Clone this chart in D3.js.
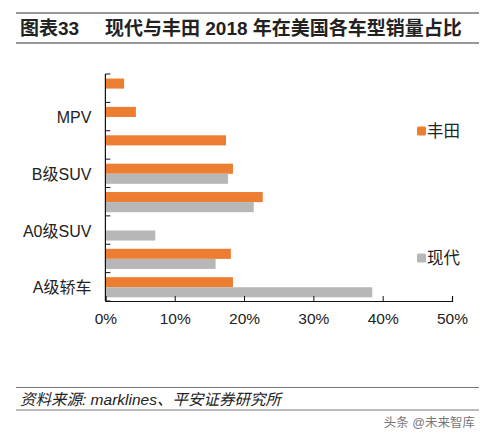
<!DOCTYPE html>
<html>
<head>
<meta charset="utf-8">
<script src="https://cdn.jsdelivr.net/npm/d3@7"></script>
<style>
  body { margin: 0; background: #fff; }
  svg text { font-family: "Liberation Sans", "Noto Sans CJK SC", sans-serif; }
</style>
</head>
<body>
<svg id="chart"></svg>
<script>
// categories bottom -> top (every other label shown, as in the source)
const categories = ['A级轿车', 'B级轿车', 'A0级SUV', 'A级SUV', 'B级SUV', 'C级SUV', 'MPV', '皮卡'];
const showLabel = ['A级轿车', 'A0级SUV', 'B级SUV', 'MPV'];
const toyota = [18.4, 18.1, 0, 22.7, 18.4, 17.4, 4.4, 2.7];
const hyundai = [38.5, 15.9, 7.2, 21.4, 17.7, 0, 0, 0];
const seriesNames = ['丰田', '现代'];
const xTicks = [0, 10, 20, 30, 40, 50];

const width = 486, height = 435;
const margin = { top: 74, right: 34, bottom: 134, left: 105.4 };
const colors = { '丰田': '#ed7d31', '现代': '#b7b7b7' };

const svg = d3.select('#chart')
    .attr('width', width)
    .attr('height', height);

// title block
svg.append('line').attr('x1', 16).attr('x2', 479).attr('y1', 13).attr('y2', 13)
   .attr('stroke', '#777').attr('stroke-width', 1.5);
svg.append('line').attr('x1', 16).attr('x2', 479).attr('y1', 43).attr('y2', 43)
   .attr('stroke', '#777').attr('stroke-width', 1.5);
svg.append('text').attr('x', 20).attr('y', 35)
   .style('font-size', '19px').style('font-weight', 'bold').attr('fill', '#222')
   .text('图表33');
svg.append('text').attr('x', 105).attr('y', 35)
   .style('font-size', '19px').style('font-weight', 'bold').attr('fill', '#222')
   .text('现代与丰田 2018 年在美国各车型销量占比');

const chartW = width - margin.left - margin.right;
const chartH = height - margin.top - margin.bottom;
const g = svg.append('g').attr('transform', `translate(${margin.left},${margin.top})`);

const x = d3.scaleLinear().domain([0, 50]).range([0, chartW]);
const y0 = d3.scaleBand().domain(categories.slice().reverse()).range([0, chartH]).padding(0);
const y1 = d3.scaleBand().domain(seriesNames)
    .range([y0.bandwidth() * 0.16, y0.bandwidth() * 0.87]).padding(0);

const rows = categories.map((c, i) => ({ cat: c, '丰田': toyota[i], '现代': hyundai[i] }));

const groups = g.selectAll('.grp').data(rows).enter().append('g')
    .attr('transform', d => `translate(0,${y0(d.cat)})`);

groups.selectAll('rect')
    .data(d => seriesNames.map(k => ({ key: k, value: d[k] })))
    .enter().append('rect')
    .attr('x', 0)
    .attr('y', d => y1(d.key))
    .attr('width', d => x(d.value))
    .attr('height', y1.bandwidth())
    .attr('fill', d => colors[d.key]);

// y axis: line + inward ticks at band edges
g.append('line').attr('x1', 0).attr('x2', 0).attr('y1', 0).attr('y2', chartH)
 .attr('stroke', '#111').attr('stroke-width', 1.2);
const edges = categories.map(c => y0(c)).concat([chartH]);
g.selectAll('.ytick').data(edges).enter().append('line')
 .attr('x1', 0).attr('x2', 5).attr('y1', d => d).attr('y2', d => d)
 .attr('stroke', '#111').attr('stroke-width', 1);

g.selectAll('.ylab').data(categories.filter(c => showLabel.includes(c))).enter().append('text')
 .attr('x', -14)
 .attr('y', d => y0(d) + y0.bandwidth() / 2 + 1)
 .attr('dy', '0.35em')
 .attr('text-anchor', 'end')
 .style('font-size', '16px').attr('fill', '#222')
 .text(d => d);

// x axis
const xAxis = g.append('g')
 .attr('transform', `translate(0,${chartH})`)
 .call(d3.axisBottom(x).tickValues(xTicks).tickSize(-5).tickPadding(12).tickFormat(d => d + '%'));
xAxis.select('.domain').attr('stroke', '#111').attr('stroke-width', 1.2);
xAxis.selectAll('.tick line').attr('stroke', '#111');
xAxis.selectAll('text')
 .style('font-size', '15.5px').attr('fill', '#222')
 .style('font-family', '"Liberation Sans", "Noto Sans CJK SC", sans-serif');

// legend
const legendPos = [{ key: '丰田', y: 131 }, { key: '现代', y: 258 }];
const legend = svg.selectAll('.leg').data(legendPos).enter().append('g')
 .attr('transform', d => `translate(417,${d.y})`);
legend.append('rect').attr('x', 0).attr('y', -4.5).attr('width', 9).attr('height', 9)
 .attr('rx', 1.5).attr('fill', d => colors[d.key]);
legend.append('text').attr('x', 10).attr('y', 0).attr('dy', '0.36em')
 .style('font-size', '16.5px').attr('fill', '#222')
 .text(d => d.key);

// source block
svg.append('line').attr('x1', 16).attr('x2', 479).attr('y1', 387.5).attr('y2', 387.5)
   .attr('stroke', '#777').attr('stroke-width', 1.2);
svg.append('line').attr('x1', 16).attr('x2', 479).attr('y1', 410).attr('y2', 410)
   .attr('stroke', '#777').attr('stroke-width', 1.2);
svg.append('text').attr('x', 20).attr('y', 405)
   .style('font-size', '15.5px').style('font-style', 'italic').attr('fill', '#222')
   .text('资料来源: marklines、平安证券研究所');
svg.append('text').attr('x', 475).attr('y', 427).attr('text-anchor', 'end')
   .style('font-size', '12.5px').attr('fill', '#777')
   .text('头条 @未来智库');
</script>
</body>
</html>
